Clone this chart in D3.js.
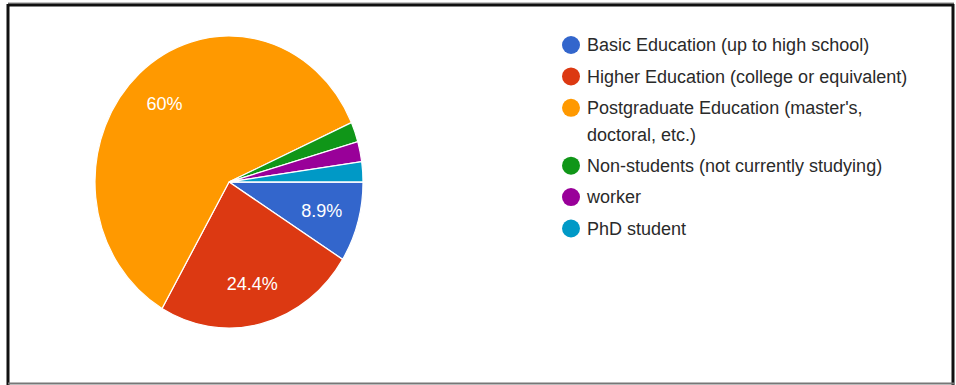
<!DOCTYPE html>
<html>
<head>
<meta charset="utf-8">
<script src="https://cdn.jsdelivr.net/npm/d3@7"></script>
<style>
  html, body { margin: 0; padding: 0; background: #fff; }
  svg { display: block; }
</style>
</head>
<body>
<svg id="chart" width="956" height="385"></svg>
<script>
// Survey responses by education status
const categories = [
  "Basic Education (up to high school)",
  "Higher Education (college or equivalent)",
  "Postgraduate Education (master's, doctoral, etc.)",
  "Non-students (not currently studying)",
  "worker",
  "PhD student"
];
const counts = [4, 11, 27, 1, 1, 1];
const colors = ["#3366cc", "#dc3912", "#ff9900", "#109618", "#990099", "#0099c6"];
// Legend lines (the long label wraps onto a second line)
const legendLines = [
  ["Basic Education (up to high school)"],
  ["Higher Education (college or equivalent)"],
  ["Postgraduate Education (master's,", "doctoral, etc.)"],
  ["Non-students (not currently studying)"],
  ["worker"],
  ["PhD student"]
];

const svg = d3.select("#chart");

// outer frame
svg.append("line").attr("x1", 8).attr("x2", 954).attr("y1", 3).attr("y2", 3)
  .attr("stroke", "#888").attr("stroke-width", 1);
svg.append("line").attr("x1", 8).attr("x2", 954).attr("y1", 5).attr("y2", 5)
  .attr("stroke", "#111").attr("stroke-width", 3);
svg.append("line").attr("x1", 8).attr("x2", 8).attr("y1", 4).attr("y2", 385)
  .attr("stroke", "#111").attr("stroke-width", 3);
svg.append("line").attr("x1", 953).attr("x2", 953).attr("y1", 4).attr("y2", 385)
  .attr("stroke", "#111").attr("stroke-width", 3);
svg.append("line").attr("x1", 8).attr("x2", 954).attr("y1", 383.5).attr("y2", 383.5)
  .attr("stroke", "#777").attr("stroke-width", 2);

const total = d3.sum(counts);
const data = categories.map((c, i) => ({ name: c, value: counts[i], color: colors[i] }));

const r = 134;
const pie = d3.pie().value(d => d.value).sort(null)
  .startAngle(Math.PI / 2).endAngle(Math.PI / 2 + 2 * Math.PI);
const arc = d3.arc().innerRadius(0).outerRadius(r);
const labelArc = d3.arc().innerRadius(r * 0.72).outerRadius(r * 0.72);

const g = svg.append("g").attr("transform", "translate(229,182) scale(1,1.09)");
const arcs = pie(data);

g.selectAll("path").data(arcs).enter().append("path")
  .attr("d", arc)
  .attr("fill", d => d.data.color)
  .attr("stroke", "#fff")
  .attr("stroke-width", 1.2);

const fmt = v => {
  const p = v / total * 100;
  const s = (Math.round(p * 10) / 10).toString();
  return s + "%";
};

// percentage labels (only on slices large enough to hold them)
const lg = svg.append("g").attr("transform", "translate(229,182)");
lg.selectAll("text").data(arcs.filter(d => d.data.value / total > 0.05)).enter().append("text")
  .attr("x", d => labelArc.centroid(d)[0])
  .attr("y", d => labelArc.centroid(d)[1] * 1.09)
  .attr("dy", "0.35em")
  .attr("text-anchor", "middle")
  .attr("fill", "#fff")
  .attr("font-family", "Arial, 'Liberation Sans', sans-serif")
  .attr("font-size", 18)
  .text(d => fmt(d.data.value));

// legend
const legend = svg.append("g").attr("transform", "translate(571,45)");
let yPos = 0;
legendLines.forEach((lines, i) => {
  const row = legend.append("g").attr("transform", `translate(0,${yPos})`);
  row.append("circle").attr("cx", 0).attr("cy", 0).attr("r", 9).attr("fill", colors[i]);
  lines.forEach((t, j) => {
    row.append("text")
      .attr("x", 16).attr("y", j * 26.5)
      .attr("dy", "0.35em")
      .attr("fill", "#2a2a2a")
      .attr("font-family", "Arial, 'Liberation Sans', sans-serif")
      .attr("font-size", 18)
      .text(t);
  });
  yPos += 31.4 + (lines.length - 1) * 26.5;
});
</script>
</body>
</html>
